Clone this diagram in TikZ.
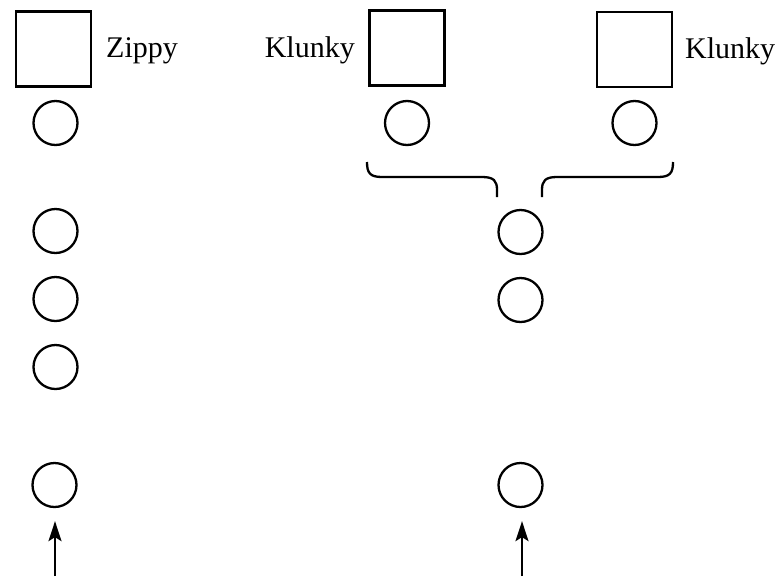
\documentclass[tikz,border=0pt]{standalone}
\usepackage{fontspec}
\setmainfont{Liberation Serif}
\usetikzlibrary{arrows.meta}
\begin{document}
\begin{tikzpicture}[x=1pt,y=-1pt,
  box/.style={draw,line width=2.3pt,minimum size=75pt,inner sep=0pt},
  ball/.style={draw,circle,line width=2.3pt,minimum size=44pt,inner sep=0pt},
  lbl/.style={font=\fontsize{30}{32}\selectfont,inner sep=0pt},
  arr/.style={line width=2pt,-{Stealth[length=20pt,width=13pt,inset=4pt]}},
  brace/.style={line width=2.3pt}]
\useasboundingbox (0,0) rectangle (781,576);
% squares
\node[box] (zs) at (53.5,49) {};
\node[box] (k1s) at (407,48) {};
\node[box] (k2s) at (634.5,49.5) {};
\node[lbl,anchor=base west] (zl) at (106,57) {Zippy};
\node[lbl,anchor=base east] (k1l) at (355,57) {Klunky};
\node[lbl,anchor=base west] (k2l) at (685,58) {Klunky};
% left column
\node[ball] (z1) at (55.5,123) {};
\node[ball] (z2) at (55.5,231) {};
\node[ball] (z3) at (55.5,299) {};
\node[ball] (z4) at (55.5,367) {};
\node[ball] (z5) at (54.5,485) {};
% klunky circles
\node[ball] (k1) at (407,123) {};
\node[ball] (k2) at (634.5,123) {};
% right column
\node[ball] (r1) at (520.5,232) {};
\node[ball] (r2) at (520.5,300) {};
\node[ball] (r3) at (520.5,485) {};
% brace
\coordinate (bl) at (367,162);
\coordinate (br) at (673,162);
\coordinate (bm1) at (497,197);
\coordinate (bm2) at (542,197);
\draw[brace] (bl) .. controls (367,173) and (370,177) .. (382,177)
  -- (482,177) .. controls (494,177) and (497,181) .. (497,190) -- (bm1);
\draw[brace] (br) .. controls (673,173) and (670,177) .. (658,177)
  -- (557,177) .. controls (545,177) and (542,181) .. (542,190) -- (bm2);
% arrows
\coordinate (a1) at (55,576);
\coordinate (a2) at (522,576);
\draw[arr,shorten >=13pt] (a1) -- (a1 |- z5.south);
\draw[arr,shorten >=13pt] (a2) -- (a2 |- r3.south);
\end{tikzpicture}
\end{document}
